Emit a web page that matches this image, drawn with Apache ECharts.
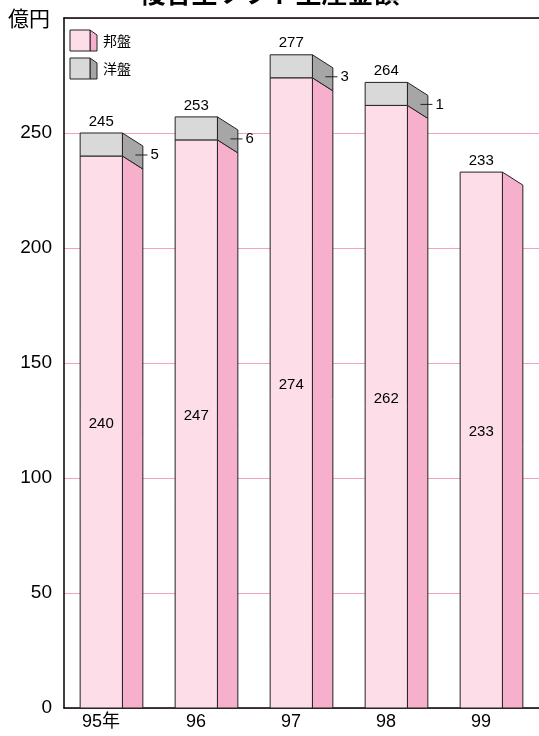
<!DOCTYPE html>
<html>
<head>
<meta charset="utf-8">
<script src="https://cdn.jsdelivr.net/npm/echarts@6/dist/echarts.min.js"></script>
<style>html,body{margin:0;padding:0;background:#fff;}#c{width:539px;height:736px;}</style>
</head>
<body>
<div id="c"></div>
<script>
const categories = ['95年', '96', '97', '98', '99'];
const domestic = [240, 247, 274, 262, 233];   // 邦盤
const foreign = [5, 6, 3, 1, 0];              // 洋盤
const totals = [245, 253, 277, 264, 233];
const yTicks = [0, 50, 100, 150, 200, 250];

const PINK_F = '#fcdde8', PINK_S = '#f7b0cb', GRAY_F = '#d9d9d9', GRAY_S = '#a6a6a6';
const NUM_FONT = '"Liberation Sans", Arial, sans-serif';
const CJK_FONT = '"Noto Sans CJK JP", sans-serif';

const chart = echarts.init(document.getElementById('c'));
const data = categories.map((c, i) => [i, domestic[i], foreign[i], totals[i]]);

function renderItem(params, api) {
  const i = api.value(0), d = api.value(1), f = api.value(2), t = api.value(3);
  const p = api.coord([i, d]);
  const p0 = api.coord([i, 0]);
  const bw = api.size([1, 0])[0];
  const fw = bw * 0.445, sw = bw * 0.215, drop = 13, capH = 23;
  const xl = p[0] - (fw + sw) / 2, xr = xl + fw;
  const yTop = p[1], y0 = p0[1];
  const stroke = { stroke: '#222', lineWidth: 1 };
  const ch = [];
  ch.push({ type: 'polygon', shape: { points: [[xr, yTop], [xr + sw, yTop + drop], [xr + sw, y0], [xr, y0]] }, style: Object.assign({ fill: PINK_S }, stroke) });
  ch.push({ type: 'rect', shape: { x: xl, y: yTop, width: fw, height: y0 - yTop }, style: Object.assign({ fill: PINK_F }, stroke) });
  let topY = yTop;
  if (f > 0) {
    const capTop = yTop - capH;
    topY = capTop;
    ch.push({ type: 'polygon', shape: { points: [[xr, capTop], [xr + sw, capTop + drop], [xr + sw, yTop + drop], [xr, yTop]] }, style: Object.assign({ fill: GRAY_S }, stroke) });
    ch.push({ type: 'rect', shape: { x: xl, y: capTop, width: fw, height: capH }, style: Object.assign({ fill: GRAY_F }, stroke) });
    ch.push({ type: 'line', shape: { x1: xr + 13, y1: yTop - 1, x2: xr + 25, y2: yTop - 1 }, style: { stroke: '#222', lineWidth: 1 } });
    ch.push({ type: 'text', style: { text: String(f), x: xr + 28, y: yTop - 1, align: 'left', verticalAlign: 'middle', font: '15px ' + NUM_FONT, fill: '#000' } });
  }
  ch.push({ type: 'text', style: { text: String(t), x: xl + fw / 2, y: topY - 4, align: 'center', verticalAlign: 'bottom', font: '15px ' + NUM_FONT, fill: '#000' } });
  ch.push({ type: 'text', style: { text: String(d), x: xl + fw / 2, y: (yTop + y0) / 2 - 8, align: 'center', verticalAlign: 'middle', font: '15px ' + NUM_FONT, fill: '#000' } });
  return { type: 'group', children: ch };
}

function legendIcon(x, y, front, side) {
  return [
    { type: 'polygon', shape: { points: [[x + 20, y], [x + 27, y + 5], [x + 27, y + 21], [x + 20, y + 21]] }, style: { fill: side, stroke: '#222', lineWidth: 1 } },
    { type: 'rect', shape: { x: x, y: y, width: 20, height: 21 }, style: { fill: front, stroke: '#222', lineWidth: 1 } }
  ];
}

chart.setOption({
  animation: false,
  grid: { left: 64, right: -12.5, top: 18, bottom: 28, containLabel: false },
  xAxis: [{
    type: 'category', data: categories, position: 'bottom',
    axisLine: { show: true, lineStyle: { color: '#000', width: 1.5 } },
    axisTick: { show: false },
    axisLabel: { fontSize: 18, color: '#000', margin: 5, fontFamily: '"Liberation Sans", "Noto Sans CJK JP", sans-serif', padding: [0, 21, 0, 0] },
    splitLine: { show: false }
  }, {
    type: 'category', data: categories, position: 'top',
    axisLine: { show: true, lineStyle: { color: '#000', width: 1.5 } },
    axisTick: { show: false }, axisLabel: { show: false }, splitLine: { show: false }
  }],
  yAxis: {
    type: 'value', min: 0, max: 300, interval: 50,
    axisLine: { show: true, lineStyle: { color: '#000', width: 1.5 } },
    axisTick: { show: false },
    axisLabel: { fontSize: 19, color: '#000', margin: 12, fontFamily: NUM_FONT, formatter: v => yTicks.indexOf(v) >= 0 ? String(v) : '' },
    splitLine: { show: true, lineStyle: { color: '#f4a0c0', width: 1 } }
  },
  series: [{ type: 'custom', renderItem: renderItem, data: data, encode: { x: 0, y: 1 }, clip: false, z: 3 }],
  graphic: [
    { type: 'text', left: 'center', top: -20, style: { text: '複合型ソフト生産金額', font: 'bold 26px ' + CJK_FONT, fill: '#000' } },
    { type: 'text', x: 8, y: 8, style: { text: '億円', font: '21px ' + CJK_FONT, fill: '#000' } },
    { type: 'group', children: legendIcon(70, 30, PINK_F, PINK_S).concat(legendIcon(70, 58, GRAY_F, GRAY_S)).concat([
      { type: 'text', x: 103, y: 41, style: { text: '邦盤', font: '14px ' + CJK_FONT, fill: '#000', verticalAlign: 'middle' } },
      { type: 'text', x: 103, y: 69, style: { text: '洋盤', font: '14px ' + CJK_FONT, fill: '#000', verticalAlign: 'middle' } }
    ]) }
  ]
});
</script>
</body>
</html>
